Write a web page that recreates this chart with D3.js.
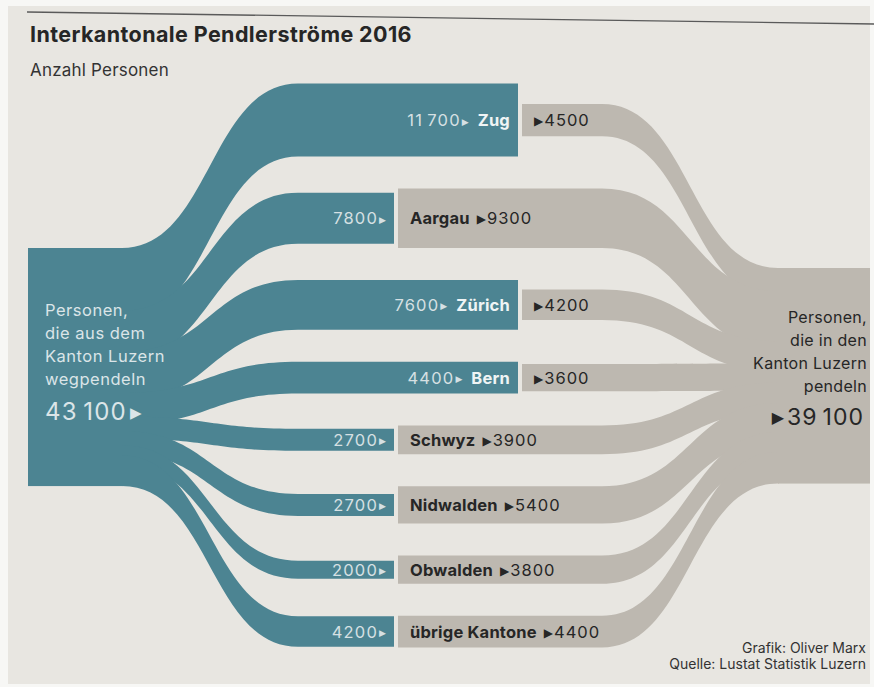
<!DOCTYPE html>
<html><head><meta charset="utf-8">
<script src="https://cdn.jsdelivr.net/npm/d3@7"></script>
<style>body{margin:0;background:#f7f7f5;} svg{display:block;}</style>
</head><body><svg id="c" width="874" height="687"></svg>
<script>
// ---- data ----
const cantons = ["Zug", "Aargau", "Zürich", "Bern", "Schwyz", "Nidwalden", "Obwalden", "übrige Kantone"];
const outflow = [11700, 7800, 7600, 4400, 2700, 2700, 2000, 4200];   // aus Luzern weg
const inflow  = [4500, 9300, 4200, 3600, 3900, 5400, 3800, 4400];    // nach Luzern
const title = "Interkantonale Pendlerströme 2016";
const subtitle = "Anzahl Personen";
const leftLabel = ["Personen,", "die aus dem", "Kanton Luzern", "wegpendeln"];
const rightLabel = ["Personen,", "die in den", "Kanton Luzern", "pendeln"];
const credits = ["Grafik: Oliver Marx", "Quelle: Lustat Statistik Luzern"];

const totalOut = d3.sum(outflow), totalIn = d3.sum(inflow);
const fmt = v => v >= 10000 ? d3.format(",")(v).replace(/,/g, "\u2009") : String(v);

// ---- style / layout ----
const TEAL = "#4c8492", GREY = "#bdb8b0", PAPER = "#e8e6e1", INK = "#262626";
const FONT = "Inter, 'Liberation Sans', Arial, sans-serif";
const TRI = "'DejaVu Sans', sans-serif";

const svg = d3.select("#c");
svg.append("rect").attr("x", 8).attr("y", 6).attr("width", 862).attr("height", 678).attr("fill", PAPER);

const nodeScale = d3.scaleLinear().domain([0, 1000]).range([0, 5.3]);
const barScale = d3.scaleLinear().domain([0, 10000]).range([6.7, 63.4]);

const x = { l0: 28, l1: 122, b0: 298, splitLong: 518, splitShort: 394, gap: 4, g1: 602, r0: 778, r1: 870 };
const leftTop = 248, rightTop = 268, rowTop = 83.5, rowGap = 32;

// rows: bar centres stacked from data thickness; link ends centred on node shares
const rows = [];
let yCursor = rowTop;
let sCum = leftTop + (barScale(outflow[0]) - nodeScale(outflow[0])) / 2;
let rCum = rightTop + (barScale(inflow[0]) - nodeScale(inflow[0])) / 2;
cantons.forEach((name, i) => {
  const h = barScale(Math.max(outflow[i], inflow[i]));
  const c = yCursor + h / 2;
  yCursor += h + rowGap;
  const inTeal = outflow[i] > inflow[i];
  const sc = sCum + nodeScale(outflow[i]) / 2; sCum += nodeScale(outflow[i]);
  const rc = rCum + nodeScale(inflow[i]) / 2; rCum += nodeScale(inflow[i]);
  rows.push({ name, out: outflow[i], inn: inflow[i], c, inTeal,
    split: inTeal ? x.splitLong : x.splitShort, sc, rc });
});

// top rule
svg.append("line").attr("x1", 27).attr("y1", 12).attr("x2", 874).attr("y2", 24)
  .attr("stroke", "#5a5a5a").attr("stroke-width", 1.3);

svg.append("text").attr("x", 30).attr("y", 42).attr("font-family", FONT).attr("font-weight", 700)
  .attr("font-size", 21.5).attr("fill", INK).attr("letter-spacing", 0.4).text(title);
svg.append("text").attr("x", 30).attr("y", 76).attr("font-family", FONT)
  .attr("font-size", 17).attr("letter-spacing", 0.2).attr("fill", "#333").text(subtitle);

const xm = (x.l1 + x.b0) / 2, xm2 = (x.g1 + x.r0) / 2;

// left node (spans outer edges of the link ends)
const lFirst = rows[0], lLast = rows[rows.length - 1];
const lTop = lFirst.sc - barScale(lFirst.out) / 2, lBot = lLast.sc + barScale(lLast.out) / 2;
svg.append("rect").attr("x", x.l0).attr("y", lTop).attr("width", x.l1 - x.l0 + 1)
  .attr("height", lBot - lTop).attr("fill", TEAL);
const rTopN = lFirst.rc - barScale(lFirst.inn) / 2, rBotN = lLast.rc + barScale(lLast.inn) / 2;

rows.forEach(r => {
  const w = barScale(r.out);
  const sTop = r.sc - w / 2, sBot = r.sc + w / 2, tTop = r.c - w / 2, tBot = r.c + w / 2;
  const p = d3.path();
  p.moveTo(x.l1, sTop);
  p.bezierCurveTo(xm, sTop, xm, tTop, x.b0, tTop);
  p.lineTo(r.split, tTop); p.lineTo(r.split, tBot); p.lineTo(x.b0, tBot);
  p.bezierCurveTo(xm, tBot, xm, sBot, x.l1, sBot);
  p.closePath();
  svg.append("path").attr("d", p.toString()).attr("fill", TEAL);

  const wg = barScale(r.inn), gTop = r.c - wg / 2, gBot = r.c + wg / 2, gx = r.split + x.gap;
  const eTop = r.rc - wg / 2, eBot = r.rc + wg / 2;
  const q = d3.path();
  q.moveTo(gx, gTop); q.lineTo(x.g1, gTop);
  q.bezierCurveTo(xm2, gTop, xm2, eTop, x.r0, eTop);
  q.lineTo(x.r0 + 1, eTop); q.lineTo(x.r0 + 1, eBot); q.lineTo(x.r0, eBot);
  q.bezierCurveTo(xm2, eBot, xm2, gBot, x.g1, gBot);
  q.lineTo(gx, gBot); q.closePath();
  svg.append("path").attr("d", q.toString()).attr("fill", GREY);
});

// right node
svg.append("rect").attr("x", x.r0).attr("y", rTopN).attr("width", x.r1 - x.r0)
  .attr("height", rBotN - rTopN).attr("fill", GREY);

// middle labels
rows.forEach(r => {
  const t = svg.append("text").attr("x", r.split - 8).attr("y", r.c + 6)
    .attr("text-anchor", "end").attr("font-family", FONT).attr("font-size", 16.5)
    .attr("fill", "#d6e0e3");
  t.append("tspan").attr("letter-spacing", 1.2).text(fmt(r.out));
  t.append("tspan").attr("font-family", TRI).attr("font-size", 9).attr("dx", 1).attr("dy", -1.5).text("▶");
  if (r.inTeal) {
    t.append("tspan").attr("dx", 9).attr("dy", 1.5).attr("font-weight", 700).attr("letter-spacing", 0.2)
      .attr("fill", "#eff4f5").text(r.name);
  }
  const g = svg.append("text").attr("x", r.split + x.gap + 12).attr("y", r.c + 6)
    .attr("font-family", FONT).attr("font-size", 16.5).attr("fill", INK);
  if (!r.inTeal) {
    g.append("tspan").attr("font-weight", 700).attr("letter-spacing", 0.2).text(r.name);
    g.append("tspan").attr("dx", 7).attr("dy", -1).attr("font-family", TRI).attr("font-size", 12).text("▶");
  } else {
    g.append("tspan").attr("dy", -1).attr("font-family", TRI).attr("font-size", 12).text("▶");
  }
  g.append("tspan").attr("dx", 1).attr("dy", 1).attr("letter-spacing", 1).text(fmt(r.inn));
});

// left text
const lt = svg.append("g").attr("font-family", FONT).attr("fill", "#dbe5e8");
leftLabel.forEach((s, i) => lt.append("text").attr("x", 45).attr("y", 316 + i * 23)
  .attr("font-size", 16.5).attr("letter-spacing", 0.5).text(s));
const lt2 = lt.append("text").attr("x", 45).attr("y", 420).attr("font-size", 24).attr("letter-spacing", 1.2);
lt2.append("tspan").text(fmt(totalOut));
lt2.append("tspan").attr("dx", 3).attr("dy", -2).attr("font-family", TRI).attr("font-size", 15).text("▶");

// right text
const rt = svg.append("g").attr("font-family", FONT).attr("fill", INK).attr("text-anchor", "end");
rightLabel.forEach((s, i) => rt.append("text").attr("x", 867).attr("y", 323 + i * 23)
  .attr("font-size", 16).attr("letter-spacing", 0.3).text(s));
const rt2 = rt.append("text").attr("x", 864).attr("y", 425).attr("font-size", 23).attr("letter-spacing", 1);
rt2.append("tspan").attr("dy", -2).attr("font-family", TRI).attr("font-size", 16).text("▶");
rt2.append("tspan").attr("dx", 2).attr("dy", 2).text(fmt(totalIn));

// credits
credits.forEach((s, i) => svg.append("text").attr("x", 866).attr("y", 653 + i * 16)
  .attr("text-anchor", "end").attr("font-family", FONT).attr("font-size", 14)
  .attr("fill", "#333").text(s));
</script></body></html>
